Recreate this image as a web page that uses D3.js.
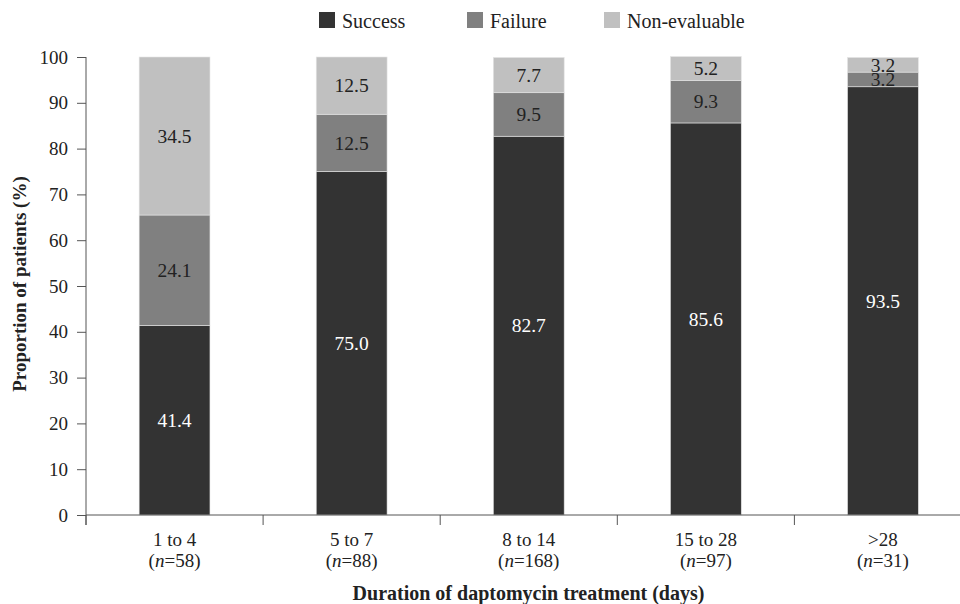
<!DOCTYPE html>
<html><head><meta charset="utf-8">
<script src="https://cdn.jsdelivr.net/npm/d3@7/dist/d3.min.js"></script>
<style>body{margin:0;background:#fff}svg{display:block} svg text{font-family:"Liberation Serif","Times New Roman",Tinos,"DejaVu Serif",serif !important}</style>
</head><body><svg id="c" width="960" height="604"></svg>
<script>
const categories = ["1 to 4", "5 to 7", "8 to 14", "15 to 28", ">28"];
const nValues = [58, 88, 168, 97, 31];
const seriesNames = ["Success", "Failure", "Non-evaluable"];
const success = [41.4, 75.0, 82.7, 85.6, 93.5];
const failure = [24.1, 12.5, 9.5, 9.3, 3.2];
const nonEvaluable = [34.5, 12.5, 7.7, 5.2, 3.2];
const yTicks = [0, 10, 20, 30, 40, 50, 60, 70, 80, 90, 100];
const colors = ["#333333", "#808080", "#c0c0c0"];
const labelColors = ["#ffffff", "#222222", "#222222"];

(function () {
const svg = d3.select("#c");
const mLeft = 86, mRight = 971.5, mTop = 57, mBottom = 515;

const rows = categories.map((c, i) => ({cat: c, Success: success[i], Failure: failure[i], "Non-evaluable": nonEvaluable[i]}));
const stack = d3.stack().keys(seriesNames)(rows);

const x = d3.scaleBand().domain(categories).range([mLeft, mRight]).padding(0);
const y = d3.scaleLinear().domain([0, 100]).range([mBottom, mTop]);
const barW = x.bandwidth() * 0.4;

// bars
stack.forEach((layer, si) => {
  const g = svg.append("g");
  g.selectAll("rect").data(layer).enter().append("rect")
    .attr("x", d => x(d.data.cat) + (x.bandwidth() - barW) / 2)
    .attr("width", barW)
    .attr("y", d => y(d[1]))
    .attr("height", d => y(d[0]) - y(d[1]))
    .attr("fill", colors[si])
    .attr("stroke", "#e4e4e4").attr("stroke-width", 0.6);
  g.selectAll("text").data(layer).enter().append("text")
    .attr("x", d => x(d.data.cat) + x.bandwidth() / 2)
    .attr("y", d => y((d[0] + d[1]) / 2))
    .attr("dy", "0.35em")
    .attr("text-anchor", "middle")
    .attr("font-size", 19.5)
    .attr("fill", labelColors[si])
    .text(d => (d[1] - d[0]).toFixed(1));
});

// y axis
const yAxis = d3.axisLeft(y).tickValues(yTicks).tickSize(9).tickPadding(9);
const yg = svg.append("g").attr("transform", `translate(${mLeft},0)`).call(yAxis);
yg.select(".domain").remove();
yg.append("line").attr("x1", 0).attr("x2", 0).attr("y1", mTop).attr("y2", mBottom + 10).attr("stroke", "#555");
yg.selectAll(".tick line").attr("stroke", "#555");
yg.selectAll(".tick text").attr("font-size", 19).attr("fill", "#222");

// x axis
const xg = svg.append("g");
xg.append("line").attr("x1", mLeft).attr("x2", 960).attr("y1", mBottom).attr("y2", mBottom).attr("stroke", "#555");
xg.selectAll("line.t").data(categories).enter().append("line").attr("class", "t")
  .attr("x1", d => x(d)).attr("x2", d => x(d)).attr("y1", mBottom).attr("y2", mBottom + 10).attr("stroke", "#555");
const xl = xg.selectAll("g.lbl").data(categories).enter().append("g").attr("class", "lbl");
xl.append("text").attr("x", d => x(d) + x.bandwidth() / 2).attr("y", 546)
  .attr("text-anchor", "middle").attr("font-size", 19).attr("fill", "#222").text(d => d);
const nt = xl.append("text").attr("x", d => x(d) + x.bandwidth() / 2).attr("y", 567)
  .attr("text-anchor", "middle").attr("font-size", 19).attr("fill", "#222");
nt.append("tspan").text("(");
nt.append("tspan").attr("font-style", "italic").text("n");
nt.append("tspan").text((d, i) => "=" + nValues[i] + ")");

// axis titles
svg.append("text").attr("x", 528.5).attr("y", 600).attr("text-anchor", "middle")
  .attr("font-size", 20).attr("font-weight", "bold").attr("fill", "#222")
  .text("Duration of daptomycin treatment (days)");
svg.append("text").attr("transform", "translate(26,284) rotate(-90)").attr("text-anchor", "middle")
  .attr("font-size", 19).attr("font-weight", "bold").attr("fill", "#222")
  .text("Proportion of patients (%)");

// legend
const legX = [319, 467, 604];
const lg = svg.selectAll("g.leg").data(seriesNames).enter().append("g").attr("class", "leg")
  .attr("transform", (d, i) => `translate(${legX[i]},12)`);
lg.append("rect").attr("width", 16).attr("height", 16).attr("fill", (d, i) => colors[i]);
lg.append("text").attr("x", 23).attr("y", 15.5).attr("font-size", 20).attr("fill", "#222").text(d => d);
})();
</script></body></html>
